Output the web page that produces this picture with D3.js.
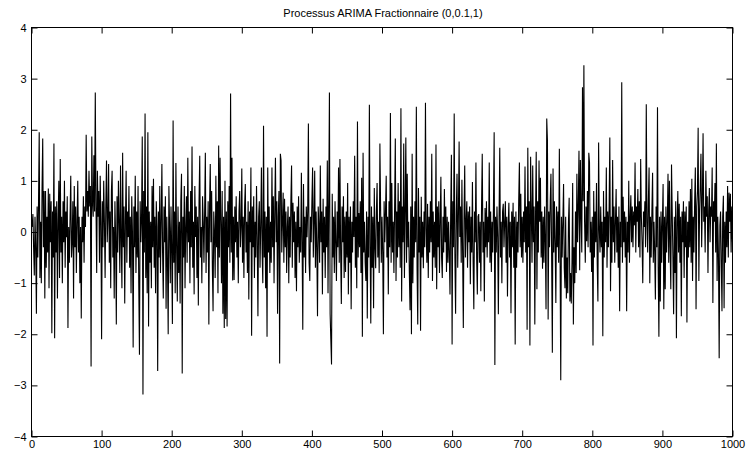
<!DOCTYPE html>
<html>
<head>
<meta charset="utf-8">
<script src="https://cdn.jsdelivr.net/npm/d3@7"></script>
<style>
  html, body { margin: 0; padding: 0; background: #fff; }
  svg { display: block; }
  text { font-family: "Liberation Sans", Arial, Helvetica, sans-serif; fill: #000; }
</style>
</head>
<body>
<svg id="chart" width="751" height="453"></svg>
<script>
const title = "Processus ARIMA Fractionnaire (0,0.1,1)";
const xTicks = [0, 100, 200, 300, 400, 500, 600, 700, 800, 900, 1000];
const yTicks = [-4, -3, -2, -1, 0, 1, 2, 3, 4];
const xDomain = [0, 1000];
const yDomain = [-4, 4];

const series = [
0.1, 0.35, -0.3, -0.85, 0.3, -0.3, -1.6, 0.5, -0.5, 0.55,
1.95, -0.9, 0.2, -1.0, 0.8, 1.83, -0.3, 0.8, -1.3, 0.8,
-0.7, 0.3, -0.4, 0.85, -1.1, 0.75, -0.2, 0.6, -1.98, 0.4,
-0.5, 1.73, -2.08, 0.5, -0.4, 0.6, -1.3, 0.2, 1.0, -0.9,
1.43, -0.4, 0.3, -1.0, 0.6, -0.2, 1.0, -0.7, 0.4, -0.1,
0.7, -1.88, 0.1, -0.6, 0.3, 1.1, -0.5, -0.2, 0.6, -1.3,
0.9, -0.3, 0.5, -0.8, 0.2, 1.0, -0.4, 0.3, -1.0, 0.1,
-1.69, 0.3, -0.2, 0.7, -0.6, 0.5, 0.1, 1.9, 0.4, 0.8,
0.3, 1.2, 0.5, 0.9, -2.63, 1.87, 0.6, 0.3, 1.5, 0.4,
2.73, 0.5, -0.8, 1.2, 0.3, 0.8, -0.6, 1.1, 0.2, -2.1,
0.6, -0.3, 1.0, 0.2, -0.9, 0.5, 1.4, -0.2, 0.3, 1.33,
-0.6, 0.4, -1.1, 0.8, 1.2, -0.5, 0.1, -1.3, 0.6, -0.1,
-1.81, 0.7, -0.4, 1.0, 0.2, -0.8, 1.3, -0.2, -1.1, 1.55,
-0.3, 0.5, -1.4, 0.2, 1.2, -0.6, 0.4, -0.1, 0.9, -0.7,
0.3, -1.2, 0.7, 0.0, -2.26, 0.5, -0.3, 1.1, -0.8, 0.4,
-0.5, 0.9, -1.0, -2.4, 0.6, -0.2, 0.3, 1.87, -3.18, 0.8,
-0.4, 2.32, -0.9, 0.5, -1.2, 1.95, -1.85, 0.4, -0.6, 0.2,
-1.1, 0.9, -0.3, 1.04, -0.7, 0.3, -1.2, 0.6, 0.1, -2.72,
0.4, -0.5, 0.9, -0.8, 0.2, 1.33, -0.4, -1.3, 0.5, -0.2,
0.7, -1.5, 0.3, -0.6, -2.0, 0.9, 0.1, -1.0, 0.5, -0.4,
-1.8, 2.18, -0.6, 0.4, -1.2, 1.35, -0.3, -1.36, 0.5, -0.8,
0.2, -1.4, 0.6, 1.14, -2.77, 0.3, -0.5, 0.9, -1.1, 0.1,
0.7, -0.6, 1.45, -0.2, 0.4, -1.0, 0.8, -0.3, 1.67, -0.7,
0.2, -1.22, 0.9, -0.1, 0.5, -0.9, 0.3, -1.44, 0.6, 1.49,
-0.5, 0.1, -1.0, 0.7, 0.2, -0.6, 0.4, 1.55, -0.8, 0.3,
-0.4, 0.6, -1.81, 0.5, 1.33, -0.2, 0.8, -0.7, -1.55, 0.4,
0.0, -0.9, 1.1, -0.3, 0.6, -1.2, 1.69, -0.5, 1.45, 0.2,
-1.0, 0.8, -1.6, 0.3, -1.88, 1.0, -1.7, 0.4, -1.85, 0.6,
-0.3, 0.9, -0.6, 2.71, -0.4, 1.45, -0.95, 0.3, -0.94, 0.5,
-0.2, 0.7, -0.5, 0.2, -1.0, 0.4, 0.8, -0.3, 0.1, 1.24,
-0.6, 0.3, -0.9, 0.5, 0.94, -0.4, 0.2, -0.8, 0.6, -1.32,
0.4, -0.2, 1.26, -2.03, 0.5, -0.3, 0.7, -0.9, 0.2, -0.5,
0.9, -0.1, -1.65, 0.3, 0.6, -0.7, 0.1, 1.26, -0.4, -1.0,
2.08, -0.5, 0.4, -1.1, 0.3, -2.05, 1.26, -0.4, 0.5, -0.8,
0.2, -0.6, 1.26, -0.3, 0.7, -1.0, 0.4, 1.45, -0.2, 0.6,
-1.6, 0.3, 0.8, -2.57, 1.53, 1.4, -0.4, 0.2, 0.77, -0.6,
0.65, -0.3, 0.4, -0.8, 0.1, 0.5, -1.0, 0.3, -0.5, 0.6,
1.3, -0.7, 0.57, -0.2, 0.4, -0.9, 0.2, -1.16, 0.5, -0.3,
0.7, -0.6, 0.1, -0.4, 1.16, -0.2, -1.91, 0.94, -0.5, 0.3,
-0.8, 0.5, -0.1, 0.4, 2.12, -0.6, -0.96, 0.3, -0.2, 0.6,
1.26, -0.5, 0.2, 1.2, -0.7, 0.4, -0.3, -1.65, 0.5, 0.1,
-0.6, 1.3, -0.2, 0.4, -1.22, 0.65, -0.4, 0.3, -0.9, 0.5,
-0.3, 1.4, -1.2, 0.6, 2.73, -1.6, -2.1, -2.59, 0.75, -0.5,
0.3, -0.8, 0.6, -0.2, -0.96, 0.4, -0.3, 1.26, -0.6, 1.43,
-0.4, -1.41, 0.5, -0.2, 0.7, -0.9, 0.3, -0.78, 0.4, -0.5,
0.96, -1.22, 0.3, -0.6, 0.5, -1.51, 0.2, -0.4, 0.6, -0.1,
1.49, -0.7, 0.3, -1.1, 2.16, -0.5, 0.37, -0.3, 0.6, -0.8,
1.06, -2.05, 1.55, -0.4, 0.2, -0.6, -0.96, 0.4, -1.69, 0.3,
-0.5, 2.49, -0.2, -1.79, 0.5, -0.7, 0.3, -1.49, 0.86, -0.3,
-0.71, 0.4, 0.96, -0.5, 0.2, -0.8, 1.73, 0.5, -0.6, 0.3,
-0.4, -2.0, 0.6, -0.2, 0.4, 1.1, -0.5, 0.3, -1.22, 0.6,
-0.3, 2.33, -0.6, 0.96, -0.4, 0.2, -0.8, 0.5, 1.83, -0.96,
0.4, -0.5, 0.96, -0.3, 0.6, -0.7, 2.42, -1.36, 0.5, -0.2,
1.73, -0.9, 0.4, 1.85, -0.6, 1.14, -0.3, 0.2, -0.8, -1.53,
0.5, -2.0, 1.53, -1.0, 0.3, -0.5, 0.6, -0.2, 2.45, -0.7,
-1.81, 0.86, -0.4, 0.3, -1.93, 0.69, -0.5, 0.2, -0.71, 0.4,
-0.3, 2.53, 0.06, -0.6, 0.55, -0.9, 0.3, -0.4, 0.6, -0.2,
1.53, -0.96, 0.4, -0.5, 0.2, -0.7, 1.71, -1.12, 0.5, -0.3,
0.6, -0.8, 0.2, 1.08, -0.5, -0.9, 0.3, -0.4, 0.84, -0.2,
0.5, -0.78, 0.3, -0.6, 0.2, -0.4, -1.22, 0.4, 1.51, -2.2,
0.6, -0.3, 2.32, -0.5, -1.6, 0.4, 1.14, -0.7, 0.3, 1.77,
-0.1, 0.5, -0.6, 1.02, -0.4, -1.88, 0.3, 1.3, -0.5, 0.2,
0.6, -0.7, 0.4, -0.2, 0.5, -1.02, 0.3, -0.4, 0.98, -0.6,
-1.51, 0.4, -0.2, 1.36, -0.5, -1.22, 0.3, 0.35, -0.6, 0.2,
-1.16, 0.5, 1.53, -0.4, 0.2, -1.36, 0.47, -0.3, 0.6, -0.5,
0.3, -0.2, 1.36, -0.6, 0.4, -0.78, 0.2, -0.4, 0.5, 1.95,
-2.6, 0.3, -0.4, 0.5, -0.1, -1.61, 0.3, 1.65, -0.5, 0.2,
-1.0, 0.4, 0.55, -0.3, 0.2, 0.6, -0.6, 0.3, -1.26, 0.1,
0.57, -0.5, 0.2, -1.59, 0.4, -0.3, 0.57, -0.7, 0.3, -2.2,
0.4, -0.7, 0.2, -0.4, 0.6, 1.36, -0.3, 0.75, -0.5, 0.3,
-0.6, 0.4, -0.2, 1.28, -0.4, 0.5, -1.91, 1.65, -0.3, 0.6,
-2.22, 1.47, 0.4, -0.6, 1.3, -0.2, 0.5, -1.81, 0.3, 1.57,
-1.12, 0.6, -0.4, 1.4, 0.2, 1.06, -0.5, 0.4, -0.72, 0.3,
-0.6, 0.5, -0.2, -1.51, 2.22, 1.79, -1.71, 0.4, -0.3, 0.6,
1.14, -0.5, -2.36, 1.24, -0.4, 0.6, -0.2, -1.39, 0.5, -0.3,
0.4, -0.6, 1.63, -0.4, -2.9, 0.3, -0.5, 0.2, 0.94, -0.7,
-1.1, 0.3, -1.3, -0.5, -1.2, 0.2, 0.67, -1.36, -0.8, -1.4,
-0.6, 0.96, -1.81, -0.3, -1.0, 0.4, -0.8, 1.14, -0.2, 0.5,
1.59, -0.75, 1.41, 0.3, -0.4, 2.83, 0.6, 3.26, 0.2, -0.6,
0.5, -0.18, 0.8, -0.3, 1.55, 1.36, -0.4, 0.2, -0.78, 0.3,
-2.22, 0.8, -0.5, 0.4, -0.2, 0.96, -0.6, -1.36, 1.75, 0.06,
-0.4, 0.5, -0.3, 0.2, -2.04, 0.8, -0.5, 0.3, -0.2, 1.26,
-0.7, 0.4, -0.3, 0.5, 1.85, -1.16, 0.3, -0.6, 1.41, -0.2,
0.5, -0.6, 0.2, 0.84, -0.4, 0.3, -0.7, 0.5, -1.55, 0.2,
-0.3, 2.93, -0.6, 0.69, -0.2, 0.4, -0.5, 0.3, -1.55, 0.2,
-0.4, 1.0, -0.6, 0.3, 0.72, -0.2, 0.5, -0.3, 0.4, 0.13,
1.36, -0.4, 0.5, 0.2, 0.84, -0.3, 0.6, -0.5, 1.43, 0.3,
-0.2, -1.0, 0.4, 0.1, 0.6, -0.3, 2.5, 0.2, -0.4, 0.6,
1.26, -1.0, 0.3, -0.5, 0.4, 1.16, -0.6, 0.2, -0.4, -1.32,
0.5, -0.3, 2.44, -0.7, -2.05, 0.3, -1.36, 0.4, -0.6, 0.2,
0.94, -1.51, 0.3, -1.12, 0.5, -0.4, 0.2, 1.14, -0.6, 1.0,
-0.3, -1.12, 1.32, 0.4, -0.5, -1.61, 0.3, -0.8, 0.6, -2.08,
0.2, 0.8, -0.4, 0.55, -0.6, 0.3, -1.65, 0.4, -0.2, 0.6,
-0.9, 0.4, -0.3, 0.5, -1.77, 0.2, -0.5, 0.6, -0.3, 0.84,
-0.6, 1.04, -0.96, 0.3, -0.4, 0.6, 1.26, -1.51, 0.5, 0.8,
2.04, -0.96, 0.4, 0.9, 1.53, -0.3, 0.6, 1.93, 0.2, 0.5,
-0.4, 1.2, 0.3, 0.7, -0.8, 0.4, 0.86, -0.2, 0.5, 0.3,
1.26, -1.39, 0.6, 0.2, 0.96, -0.4, 1.73, -0.96, 0.3, -0.5,
-2.47, 0.13, 0.4, -0.6, -1.55, 0.3, 0.71, -1.49, 0.2, -0.6,
0.4, -0.3, 0.9, -0.5, 0.77, 0.2, 0.75, -0.4, 0.5, -0.2
];

(function () {
const svg = d3.select("#chart");
const mLeft = 31.5, mRight = 732.5, mTop = 27.5, mBottom = 436.5;

const x = d3.scaleLinear().domain(xDomain).range([mLeft, mRight]);
const y = d3.scaleLinear().domain(yDomain).range([mBottom, mTop]);

const fmt = d => d < 0 ? "\u2212" + Math.abs(d) : String(d);
const tickLen = 6;

const line = d3.line().x((d, i) => x(i + 1)).y(d => y(d));
svg.append("path")
  .datum(series)
  .attr("d", line)
  .attr("fill", "none")
  .attr("stroke", "#000")
  .attr("stroke-width", 1.1);

svg.append("rect")
  .attr("x", mLeft).attr("y", mTop)
  .attr("width", mRight - mLeft).attr("height", mBottom - mTop)
  .attr("fill", "none").attr("stroke", "#000").attr("stroke-width", 1);

const xb = svg.append("g").attr("transform", `translate(0,${mBottom})`)
  .call(d3.axisBottom(x).tickValues(xTicks).tickSize(-tickLen).tickPadding(4).tickFormat(fmt));
const xt = svg.append("g").attr("transform", `translate(0,${mTop})`)
  .call(d3.axisTop(x).tickValues(xTicks).tickSize(-tickLen).tickFormat(""));
const yl = svg.append("g").attr("transform", `translate(${mLeft},0)`)
  .call(d3.axisLeft(y).tickValues(yTicks).tickSize(-tickLen).tickPadding(5).tickFormat(fmt));
const yr = svg.append("g").attr("transform", `translate(${mRight},0)`)
  .call(d3.axisRight(y).tickValues(yTicks).tickSize(-tickLen).tickFormat(""));

[xb, xt, yl, yr].forEach(g => {
  g.select(".domain").remove();
  g.selectAll(".tick line").attr("stroke", "#000").attr("stroke-width", 1);
  g.selectAll(".tick text").attr("font-size", 11).attr("fill", "#000")
    .attr("font-family", "'Liberation Sans', Arial, sans-serif");
});

svg.append("text")
  .attr("x", 383)
  .attr("y", 17)
  .attr("text-anchor", "middle")
  .attr("font-size", 11)
  .text(title);
})();
</script>
</body>
</html>
